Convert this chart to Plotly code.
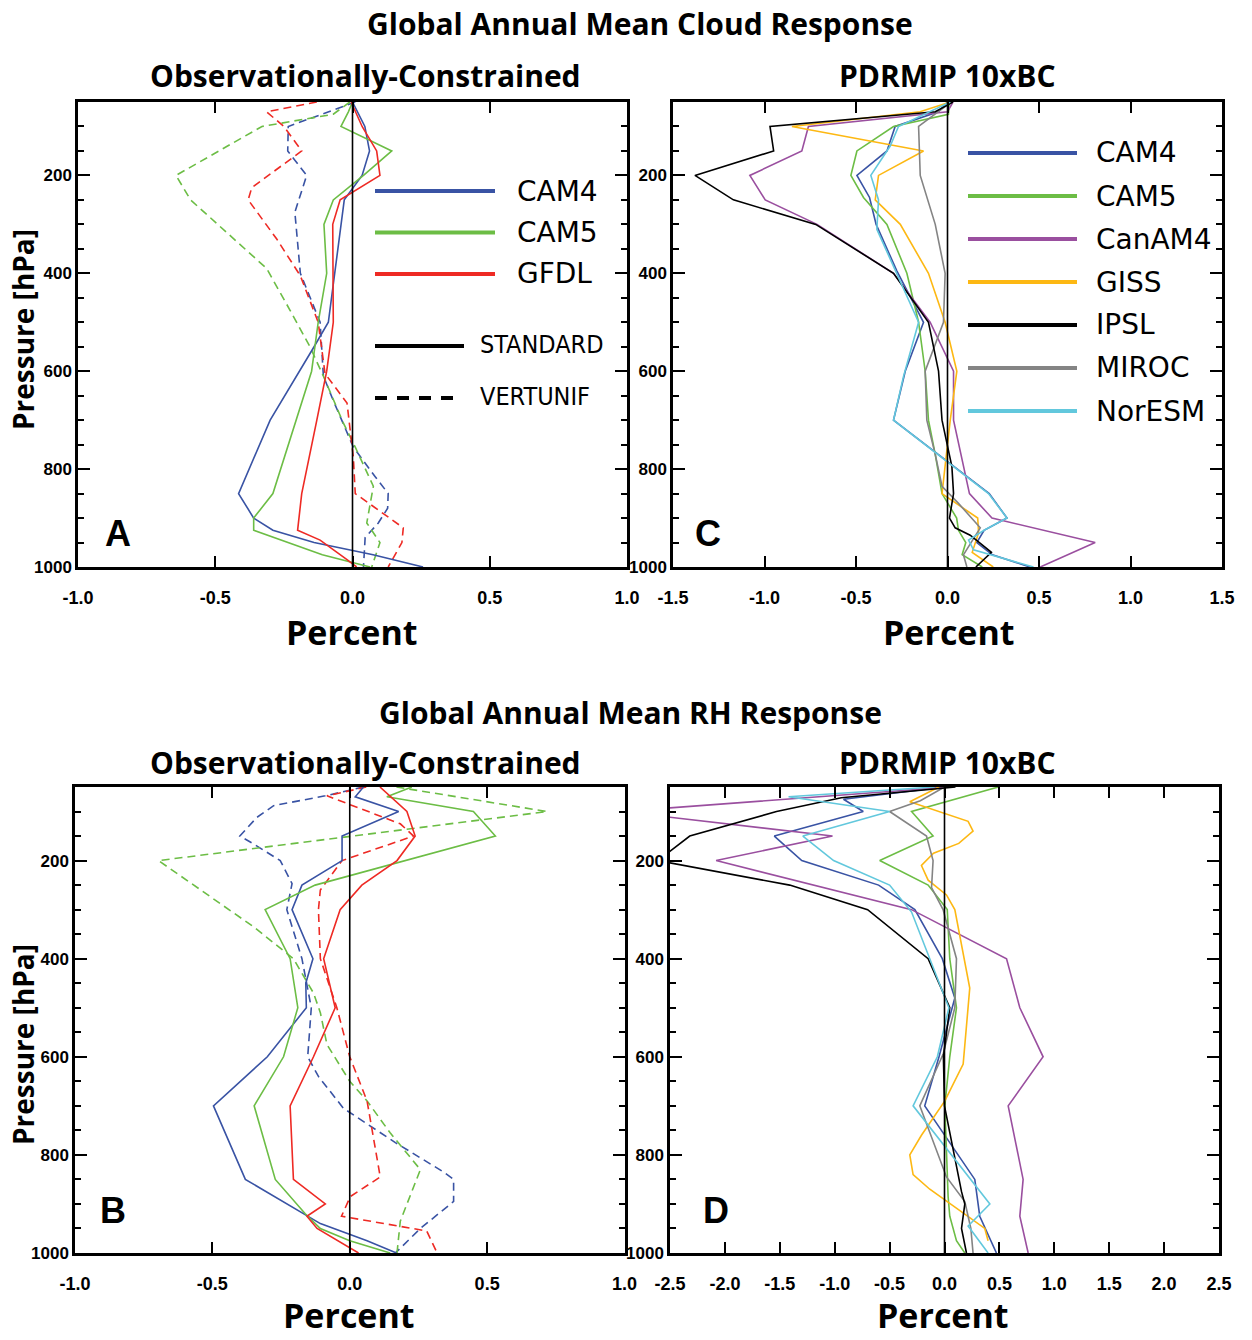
import plotly.graph_objects as go

W, H = 1252, 1340

# ---------------- DATA ----------------
# Panel A : cloud response, observationally constrained (STANDARD = solid, VERTUNIF = dashed)
A_CAM4_STD_P = [50, 100, 150, 200, 250, 500, 550, 700, 850, 900, 925, 950, 975, 1000]
A_CAM4_STD = [0.0, 0.045, 0.062, 0.035, -0.03, -0.088, -0.14, -0.3, -0.415, -0.36, -0.29, -0.14, 0.075, 0.257]
A_CAM5_STD_P = [50, 70, 100, 150, 200, 250, 300, 400, 500, 600, 850, 900, 925, 975, 1000]
A_CAM5_STD = [0.0, -0.015, -0.042, 0.143, 0.04, -0.07, -0.104, -0.094, -0.125, -0.149, -0.29, -0.36, -0.36, -0.11, 0.064]
A_GFDL_STD_P = [50, 100, 150, 200, 250, 300, 500, 600, 700, 850, 925, 945, 985, 1000]
A_GFDL_STD = [-0.005, 0.035, 0.088, 0.1, -0.045, -0.072, -0.07, -0.094, -0.13, -0.185, -0.2, -0.118, -0.02, 0.015]
A_CAM4_VU_P = [50, 100, 150, 200, 275, 400, 500, 610, 660, 755, 815, 850, 880, 910, 940, 1000]
A_CAM4_VU = [0.01, -0.234, -0.236, -0.167, -0.21, -0.19, -0.118, -0.106, -0.07, 0.003, 0.082, 0.13, 0.128, 0.094, 0.046, 0.04]
A_CAM5_VU_P = [50, 75, 100, 200, 250, 390, 475, 550, 610, 705, 755, 835, 910, 950, 1000]
A_CAM5_VU = [-0.01, -0.07, -0.33, -0.643, -0.59, -0.313, -0.228, -0.155, -0.106, -0.034, 0.01, 0.076, 0.052, 0.1, 0.07]
A_GFDL_VU_P = [50, 70, 100, 150, 225, 250, 330, 405, 500, 605, 665, 775, 850, 920, 950, 1000]
A_GFDL_VU = [-0.13, -0.313, -0.25, -0.185, -0.367, -0.38, -0.276, -0.19, -0.125, -0.1, -0.02, 0.003, 0.01, 0.185, 0.18, 0.13]

# Panel C : cloud response, PDRMIP 10xBC
C_CAM4_P = [50, 70, 100, 150, 200, 245, 300, 395, 500, 600, 700, 850, 900, 925, 950, 975, 1000]
C_CAM4 = [0.0, -0.05, -0.286, -0.331, -0.495, -0.426, -0.39, -0.277, -0.131, -0.231, -0.295, 0.228, 0.325, 0.2, 0.16, 0.245, 0.45]
C_CAM5_P = [50, 75, 100, 150, 200, 245, 300, 400, 500, 600, 700, 770, 850, 900, 925, 950, 975, 1000]
C_CAM5 = [0.01, 0.005, -0.295, -0.495, -0.528, -0.459, -0.331, -0.222, -0.158, -0.122, -0.104, -0.067, -0.03, 0.05, 0.06, 0.1, 0.08, 0.19]
C_CANAM4_P = [50, 70, 100, 150, 200, 250, 300, 400, 500, 600, 700, 850, 900, 950, 1000]
C_CANAM4 = [0.03, 0.0, -0.76, -0.796, -1.08, -0.996, -0.713, -0.295, -0.095, 0.033, 0.033, 0.12, 0.243, 0.807, 0.507]
C_GISS_P = [50, 70, 100, 150, 200, 250, 300, 400, 500, 600, 700, 850, 900, 930, 970, 1000]
C_GISS = [0.015, -0.15, -0.85, -0.131, -0.377, -0.395, -0.258, -0.104, -0.013, 0.051, 0.015, -0.03, 0.165, 0.17, 0.135, 0.25]
C_IPSL_P = [50, 70, 100, 150, 200, 250, 300, 400, 500, 600, 700, 795, 850, 900, 920, 935, 970, 1000]
C_IPSL = [0.03, -0.067, -0.97, -0.95, -1.38, -1.17, -0.72, -0.295, -0.104, -0.049, -0.03, 0.024, 0.033, 0.011, 0.042, 0.124, 0.24, 0.155]
C_MIROC_P = [50, 100, 200, 300, 400, 500, 600, 700, 770, 835, 870, 920, 975, 1000]
C_MIROC = [0.02, -0.158, -0.149, -0.067, -0.013, -0.022, -0.122, -0.113, -0.067, -0.03, 0.06, 0.179, 0.087, 0.106]
C_NORESM_P = [50, 100, 140, 200, 250, 310, 500, 610, 700, 850, 900, 925, 945, 965, 1000]
C_NORESM = [0.015, -0.268, -0.313, -0.419, -0.377, -0.386, -0.158, -0.24, -0.295, 0.224, 0.325, 0.2, 0.115, 0.142, 0.47]

# Panel B : RH response, observationally constrained
B_CAM4_STD_P = [50, 70, 100, 150, 200, 250, 300, 400, 450, 500, 600, 700, 850, 900, 940, 975, 1000]
B_CAM4_STD = [0.05, 0.02, 0.178, -0.028, -0.028, -0.174, -0.21, -0.134, -0.16, -0.158, -0.30, -0.496, -0.38, -0.229, -0.107, 0.063, 0.17]
B_CAM5_STD_P = [50, 70, 100, 150, 250, 300, 400, 500, 600, 700, 850, 920, 950, 975, 1000]
B_CAM5_STD = [0.226, 0.135, 0.45, 0.53, -0.126, -0.308, -0.217, -0.189, -0.241, -0.348, -0.271, -0.162, -0.107, 0.0, 0.147]
B_GFDL_STD_P = [50, 85, 100, 150, 200, 250, 300, 400, 500, 600, 700, 850, 900, 925, 950, 1000]
B_GFDL_STD = [0.11, 0.178, 0.208, 0.238, 0.172, 0.044, -0.035, -0.095, -0.053, -0.132, -0.217, -0.205, -0.089, -0.156, -0.119, 0.032]
B_CAM4_VU_P = [50, 68, 88, 112, 150, 166, 200, 247, 300, 400, 500, 600, 640, 705, 775, 835, 850, 895, 950, 1000]
B_CAM4_VU = [0.05, -0.089, -0.277, -0.338, -0.4, -0.35, -0.253, -0.21, -0.229, -0.174, -0.14, -0.153, -0.114, -0.023, 0.166, 0.342, 0.378, 0.378, 0.257, 0.166]
B_CAM5_VU_P = [50, 100, 200, 335, 400, 470, 510, 575, 650, 690, 755, 830, 935, 1000]
B_CAM5_VU = [0.17, 0.718, -0.696, -0.35, -0.205, -0.132, -0.107, -0.083, 0.0, 0.063, 0.147, 0.257, 0.184, 0.172]
B_GFDL_VU_P = [50, 68, 125, 150, 200, 260, 300, 400, 500, 600, 690, 845, 885, 925, 955, 1000]
B_GFDL_VU = [0.06, -0.083, 0.184, 0.232, -0.028, -0.107, -0.114, -0.107, -0.047, 0.0, 0.063, 0.111, 0.002, -0.03, 0.28, 0.318]

# Panel D : RH response, PDRMIP 10xBC
D_CAM4_P = [50, 75, 100, 150, 200, 250, 300, 400, 480, 600, 700, 850, 925, 1000]
D_CAM4 = [0.0, -0.92, -0.74, -1.55, -1.3, -0.6, -0.27, -0.02, 0.094, -0.05, -0.18, 0.276, 0.321, 0.473]
D_CAM5_P = [50, 100, 150, 200, 250, 300, 400, 500, 600, 700, 885, 925, 975, 1000]
D_CAM5 = [0.49, -0.3, -0.104, -0.59, -0.149, 0.025, 0.048, 0.109, 0.048, 0.003, 0.033, 0.048, 0.109, 0.185]
D_CANAM4_P = [50, 100, 150, 200, 300, 400, 500, 600, 700, 850, 925, 1000]
D_CANAM4 = [0.05, -2.95, -1.02, -2.08, -0.3, 0.565, 0.686, 0.898, 0.58, 0.716, 0.686, 0.762]
D_GISS_P = [50, 80, 120, 140, 165, 185, 210, 240, 270, 300, 460, 615, 690, 735, 760, 800, 840, 870, 950, 975]
D_GISS = [-0.05, -0.316, 0.215, 0.26, 0.13, -0.1, -0.21, -0.149, 0.018, 0.094, 0.23, 0.17, 0.003, -0.134, -0.21, -0.316, -0.286, -0.134, 0.367, 0.397]
D_IPSL_P = [50, 72, 100, 150, 200, 250, 300, 400, 500, 600, 700, 790, 875, 900, 950, 1000]
D_IPSL = [0.1, -0.94, -1.53, -2.32, -2.61, -1.41, -0.7, -0.149, 0.048, -0.01, 0.0, 0.078, 0.155, 0.185, 0.155, 0.2]
D_MIROC_P = [50, 78, 100, 150, 200, 255, 300, 400, 500, 595, 700, 845, 895, 950, 1000]
D_MIROC = [0.0, -0.22, -0.5, -0.164, -0.104, -0.118, -0.013, 0.109, 0.094, -0.013, -0.225, 0.018, 0.185, 0.24, 0.26]
D_NORESM_P = [50, 70, 100, 150, 200, 250, 305, 500, 600, 700, 900, 945, 1000]
D_NORESM = [-0.09, -1.42, -0.5, -1.29, -1.01, -0.5, -0.3, 0.04, -0.065, -0.286, 0.413, 0.215, 0.397]

OBS_MODELS = ["CAM4", "CAM5", "GFDL"]
PDRMIP_MODELS = ["CAM4", "CAM5", "CanAM4", "GISS", "IPSL", "MIROC", "NorESM"]
X_TICKS_OBS = [-1.0, -0.5, 0.0, 0.5, 1.0]
X_TICKS_C = [-1.5, -1.0, -0.5, 0.0, 0.5, 1.0, 1.5]
X_TICKS_D = [-2.5, -2.0, -1.5, -1.0, -0.5, 0.0, 0.5, 1.0, 1.5, 2.0, 2.5]
Y_TICKS = [200, 400, 600, 800, 1000]

COL = {"CAM4": "#3953A4", "CAM5": "#6CBD45", "GFDL": "#EE2A24", "CanAM4": "#9A4F9F",
       "GISS": "#FDB813", "IPSL": "#000000", "MIROC": "#848484", "NorESM": "#62C8DD"}

fig = go.Figure()
LW = 1.6
DASH = "8px,5px"


def add(xs, ps, model, ax, dash=None):
    fig.add_trace(go.Scatter(x=xs, y=ps, mode="lines", xaxis="x" + ax, yaxis="y" + ax,
                             line=dict(color=COL[model], width=LW, dash=dash or "solid"),
                             showlegend=False, hoverinfo="skip"))


# panel A  (axis 1 -> '')
add(A_CAM4_VU, A_CAM4_VU_P, "CAM4", "", DASH)
add(A_CAM5_VU, A_CAM5_VU_P, "CAM5", "", DASH)
add(A_GFDL_VU, A_GFDL_VU_P, "GFDL", "", DASH)
add(A_CAM4_STD, A_CAM4_STD_P, "CAM4", "")
add(A_CAM5_STD, A_CAM5_STD_P, "CAM5", "")
add(A_GFDL_STD, A_GFDL_STD_P, "GFDL", "")
# panel C (axis 2)
for vals, ps, m in [(C_CAM4, C_CAM4_P, "CAM4"), (C_CAM5, C_CAM5_P, "CAM5"),
                    (C_CANAM4, C_CANAM4_P, "CanAM4"), (C_GISS, C_GISS_P, "GISS"),
                    (C_MIROC, C_MIROC_P, "MIROC"), (C_IPSL, C_IPSL_P, "IPSL"),
                    (C_NORESM, C_NORESM_P, "NorESM")]:
    add(vals, ps, m, "2")
# panel B (axis 3)
add(B_CAM4_VU, B_CAM4_VU_P, "CAM4", "3", DASH)
add(B_CAM5_VU, B_CAM5_VU_P, "CAM5", "3", DASH)
add(B_GFDL_VU, B_GFDL_VU_P, "GFDL", "3", DASH)
add(B_CAM4_STD, B_CAM4_STD_P, "CAM4", "3")
add(B_CAM5_STD, B_CAM5_STD_P, "CAM5", "3")
add(B_GFDL_STD, B_GFDL_STD_P, "GFDL", "3")
# panel D (axis 4)
for vals, ps, m in [(D_CAM4, D_CAM4_P, "CAM4"), (D_CAM5, D_CAM5_P, "CAM5"),
                    (D_CANAM4, D_CANAM4_P, "CanAM4"), (D_GISS, D_GISS_P, "GISS"),
                    (D_MIROC, D_MIROC_P, "MIROC"), (D_IPSL, D_IPSL_P, "IPSL"),
                    (D_NORESM, D_NORESM_P, "NorESM")]:
    add(vals, ps, m, "4")


def px(x):
    return x / W


def py(y):
    return 1 - y / H


# panel frames in pixels: (left, right, top, bottom)
FR = {"": (78, 627, 102, 567), "2": (673, 1222, 102, 567),
      "3": (75, 624.5, 787, 1253), "4": (670, 1219, 787, 1253)}
XR = {"": (-1.0, 1.0, X_TICKS_OBS), "2": (-1.5, 1.5, X_TICKS_C),
      "3": (-1.0, 1.0, X_TICKS_OBS), "4": (-2.5, 2.5, X_TICKS_D)}

TICKFONT = dict(family="Liberation Sans, Arial, sans-serif", size=18, color="black")
YTICKFONT = dict(family="Liberation Sans, Arial, sans-serif", size=17, color="black")
layout = {}
for ax, (l, r, t, b) in FR.items():
    x0, x1, tv = XR[ax]
    anchor_y = "y" + ax if ax else "y"
    anchor_x = "x" + ax if ax else "x"
    layout["xaxis" + ax] = dict(
        domain=[px(l), px(r)], range=[x0, x1], anchor=anchor_y, automargin=False,
        tickvals=tv, ticktext=["<b>%.1f</b>" % v for v in tv],
        ticks="inside", ticklen=11, tickwidth=2, tickcolor="black",
        showline=True, linewidth=2.5, linecolor="black", mirror="allticks",
        showgrid=False, zeroline=False, tickfont=TICKFONT, ticklabelstandoff=13,
        fixedrange=True)
    layout["yaxis" + ax] = dict(
        domain=[py(b), py(t)], range=[1000, 50], anchor=anchor_x, automargin=False,
        tickvals=Y_TICKS, ticktext=["<b>%d</b>" % v for v in Y_TICKS],
        ticks="inside", ticklen=12, tickwidth=2, tickcolor="black",
        minor=dict(tickvals=[p for p in range(100, 1000, 50) if p % 200 != 0],
                   ticks="inside", ticklen=6, tickwidth=2, tickcolor="black"),
        showline=True, linewidth=2.5, linecolor="black", mirror="allticks",
        showgrid=False, zeroline=False, tickfont=YTICKFONT, ticklabelstandoff=0,
        fixedrange=True)

shapes = []
# vertical zero line in every panel
for ax in FR:
    shapes.append(dict(type="line", xref="x" + ax, yref=("y" + ax if ax else "y") + " domain",
                       x0=0, x1=0, y0=0, y1=1, line=dict(color="black", width=1.6)))

annotations = []


def text(x, y, s, size, family, xanchor="center", angle=0, color="black"):
    annotations.append(dict(x=px(x), y=py(y), xref="paper", yref="paper", text=s,
                            showarrow=False, xanchor=xanchor, yanchor="middle",
                            textangle=angle, font=dict(size=size, family=family, color=color)))


TF = "Open Sans, Noto Sans, sans-serif"
text(640, 23, "<b>Global Annual Mean Cloud Response</b>", 30, TF)
text(365, 75, "<b>Observationally-Constrained</b>", 30, TF)
text(947, 75, "<b>PDRMIP 10xBC</b>", 30, TF)
text(630, 712, "<b>Global Annual Mean RH Response</b>", 30, TF)
text(365, 762, "<b>Observationally-Constrained</b>", 30, TF)
text(947, 762, "<b>PDRMIP 10xBC</b>", 30, TF)
for x, y in [(352, 632), (949, 632), (349, 1315), (943, 1315)]:
    text(x, y, "<b>Percent</b>", 34, TF)
text(23, 330, "<b>Pressure [hPa]</b>", 28, TF, angle=-90)
text(23, 1045, "<b>Pressure [hPa]</b>", 28, TF, angle=-90)
LF = "Liberation Sans, Arial, sans-serif"
text(118, 533, "<b>A</b>", 36, LF)
text(708, 533, "<b>C</b>", 36, LF)
text(113, 1210, "<b>B</b>", 36, LF)
text(716, 1210, "<b>D</b>", 36, LF)

# legend of panel A
LEGF = "DejaVu Sans, sans-serif"
for i, m in enumerate(OBS_MODELS):
    y = 191 + i * 41.5
    shapes.append(dict(type="line", xref="paper", yref="paper", x0=px(375), x1=px(495),
                       y0=py(y), y1=py(y), line=dict(color=COL[m], width=4)))
    text(515, y, m, 28, LEGF, xanchor="left")
shapes.append(dict(type="line", xref="paper", yref="paper", x0=px(375), x1=px(464),
                   y0=py(346), y1=py(346), line=dict(color="black", width=4)))
shapes.append(dict(type="line", xref="paper", yref="paper", x0=px(375), x1=px(462),
                   y0=py(398), y1=py(398), line=dict(color="black", width=4, dash="12px,10px")))
NF = "DejaVu Sans Condensed, Liberation Sans Narrow, Liberation Sans, sans-serif"
text(478, 344, "STANDARD", 25, NF, xanchor="left")
text(478, 396, "VERTUNIF", 25, NF, xanchor="left")

# legend of panel C
for i, m in enumerate(PDRMIP_MODELS):
    y = 153 + i * 43
    shapes.append(dict(type="line", xref="paper", yref="paper", x0=px(968), x1=px(1077),
                       y0=py(y), y1=py(y), line=dict(color=COL[m], width=4)))
    text(1094, y, m, 28, LEGF, xanchor="left")

fig.update_layout(width=W, height=H, margin=dict(l=0, r=0, t=0, b=0, autoexpand=False),
                  paper_bgcolor="white", plot_bgcolor="white", showlegend=False,
                  shapes=shapes, annotations=annotations, **layout)

fig.write_html("out.html")
